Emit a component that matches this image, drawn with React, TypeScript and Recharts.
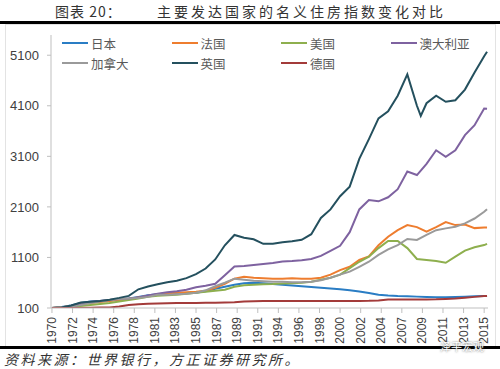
import React from 'react';
import { LineChart, Line, XAxis, YAxis } from 'recharts';

// x positions in years (one extra point for the UK dip in 2008)
const YEARS = [
  1970, 1971, 1972, 1973, 1974, 1975, 1976, 1977, 1978, 1979,
  1980, 1981, 1982, 1983, 1984, 1985, 1986, 1987, 1988, 1989,
  1990, 1991, 1992, 1993, 1994, 1995, 1996, 1997, 1998, 1999,
  2000, 2001, 2002, 2003, 2004, 2005, 2006, 2007, 2008, 2008.4,
  2009, 2010, 2011, 2012, 2013, 2014, 2015, 2015.3,
];

const JAPAN = [
  100, 120, 150, 200, 230, 240, 250, 270, 290, 320,
  350, 370, 380, 385, 390, 400, 430, 480, 520, 560,
  590, 600, 590, 575, 560, 545, 530, 515, 500, 485,
  470, 450, 425, 395, 360, 345, 335, 330, 325, null,
  320, 315, 315, 320, 325, 330, 335, 337,
];
const FRANCE = [
  100, 115, 140, 170, 200, 220, 240, 260, 280, 310,
  340, 370, 390, 400, 410, 420, 440, 500, 580, 680,
  720, 700, 690, 680, 680, 690, 680, 680, 700, 760,
  850, 915, 1050, 1120, 1340, 1510, 1640, 1740, 1700, null,
  1610, 1700, 1800, 1740, 1750, 1680, 1690, 1690,
];
const USA = [
  100, 110, 125, 140, 160, 180, 200, 230, 260, 290,
  320, 340, 350, 360, 380, 400, 420, 440, 460, 520,
  550, 560, 570, 575, 585, 590, 600, 620, 660, 700,
  760, 890, 1015, 1115, 1285, 1425, 1425, 1285, 1070, null,
  1050, 1030, 995, 1115, 1235, 1300, 1345, 1370,
];
const AUSTRALIA = [
  100, 110, 130, 170, 220, 240, 260, 280, 290, 310,
  350, 380, 410, 430, 460, 510, 540, 580, 750, 920,
  930, 950, 970, 990, 1020, 1030, 1045, 1070, 1130, 1230,
  1330, 1600, 2050, 2235, 2210, 2290, 2450, 2800, 2730, null,
  2950, 3220, 3090, 3220, 3520, 3715, 4045, 4040,
];
const CANADA = [
  100, 115, 130, 160, 200, 230, 260, 280, 290, 300,
  320, 360, 360, 370, 380, 400, 450, 530, 600, 680,
  660, 640, 630, 620, 620, 610, 610, 620, 650, 700,
  760, 820, 915, 1015, 1150, 1260, 1345, 1465, 1445, null,
  1545, 1640, 1675, 1705, 1775, 1870, 2005, 2055,
];
const UK = [
  100, 110, 150, 210, 225, 240, 265, 300, 340, 470,
  525, 570, 610, 640, 690, 770, 880, 1060, 1340, 1545,
  1490, 1460, 1370, 1370, 1400, 1420, 1450, 1560, 1880, 2050,
  2310, 2500, 3050, 3440, 3850, 3990, 4300, 4720, 4100, 3900,
  4150, 4300, 4180, 4210, 4420, 4760, 5080, 5170,
];
const GERMANY = [
  100, 100, 100, 102, 105, 108, 110, 130, 160, 175,
  185, 190, 195, 198, 200, 200, 202, 205, 210, 215,
  230, 235, 238, 240, 240, 240, 240, 240, 240, 240,
  240, 240, 240, 242, 250, 268, 270, 270, 270, null,
  270, 272, 280, 290, 305, 320, 335, 338,
];

const SERIES = [
  { key: 'jp', name: '日本', color: '#2A7DC4', values: JAPAN },
  { key: 'fr', name: '法国', color: '#EE7D2F', values: FRANCE },
  { key: 'us', name: '美国', color: '#8EAF4E', values: USA },
  { key: 'au', name: '澳大利亚', color: '#7E62A0', values: AUSTRALIA },
  { key: 'ca', name: '加拿大', color: '#9A9A9A', values: CANADA },
  { key: 'uk', name: '英国', color: '#24505E', values: UK },
  { key: 'de', name: '德国', color: '#A33B3A', values: GERMANY },
];

const TICK_LABELS = [
  '1970', '1972', '1974', '1976', '1978', '1981', '1983', '1985', '1987', '1989', '1991',
  '1994', '1996', '1998', '2000', '2002', '2004', '2007', '2009', '2011', '2013', '2015',
];
const Y_TICKS = [100, 1100, 2100, 3100, 4100, 5100];

const data = YEARS.map((year, i) => {
  const row: Record<string, number | null> = { year };
  SERIES.forEach((s) => {
    row[s.key] = s.values[i];
  });
  return row;
});

// labels sit at even spacing in the original, like an Excel category axis
const X_TICKS = TICK_LABELS.map((_, i) => 1970 + (i * 45) / 21);

const XTick = (props: any) => {
  const { x, y, payload } = props;
  const idx = Math.round(((payload.value - 1970) * 21) / 45);
  return (
    <g transform={`translate(${x},${y})`}>
      <text
        x={0}
        y={0}
        dy={4}
        transform="rotate(-90)"
        textAnchor="end"
        fill="#404040"
        fontSize={12}
        fontFamily="Liberation Sans, Arial, sans-serif"
      >
        {TICK_LABELS[idx]}
      </text>
    </g>
  );
};

const cjk = '"Noto Sans CJK SC", sans-serif';

export default function App() {
  return (
    <div style={{ position: 'absolute', left: 0, top: 0, width: 500, height: 369, background: '#fff', overflow: 'hidden' }}>
      <div style={{ position: 'absolute', left: 55, top: 1, fontFamily: cjk, fontSize: 14, color: '#333', letterSpacing: 1 }}>
        图表 20：
      </div>
      <div style={{ position: 'absolute', left: 157, top: 1, fontFamily: cjk, fontSize: 14, color: '#333', letterSpacing: 3 }}>
        主要发达国家的名义住房指数变化对比
      </div>
      <div style={{ position: 'absolute', left: 0, top: 21, width: 500, height: 2.5, background: '#000' }} />
      <div style={{ position: 'absolute', left: 5, top: 24, width: 489, height: 322, border: '1px solid #E3E3E3' }} />

      <div style={{ position: 'absolute', left: 0, top: 0 }}>
        <LineChart width={500} height={369} data={data} margin={{ top: 35, right: 12, bottom: 21, left: 0 }}>
          <XAxis
            type="number"
            dataKey="year"
            domain={[1969.9, 2015.4]}
            ticks={X_TICKS}
            interval={0}
            height={40}
            tickSize={5}
            tickMargin={4}
            stroke="#BFBFBF"
            tick={<XTick />}
            allowDataOverflow
          />
          <YAxis
            type="number"
            domain={[100, 5500]}
            ticks={Y_TICKS}
            interval={0}
            width={51}
            tickSize={4}
            tickMargin={8}
            stroke="#BFBFBF"
            tick={{ fill: '#404040', fontSize: 13, fontFamily: 'Liberation Sans, Arial, sans-serif' }}
            allowDataOverflow
          />
          {SERIES.map((s) => (
            <Line
              key={s.key}
              type="linear"
              dataKey={s.key}
              name={s.name}
              stroke={s.color}
              strokeWidth={2}
              dot={false}
              connectNulls
              isAnimationActive={false}
            />
          ))}
        </LineChart>
      </div>

      {SERIES.map((s, i) => {
        const col = i % 4;
        const row = Math.floor(i / 4);
        return (
          <div
            key={s.key}
            style={{ position: 'absolute', left: 62 + col * 109.5, top: 34 + row * 20, display: 'flex', alignItems: 'center', height: 18 }}
          >
            <div style={{ width: 26, height: 2, background: s.color }} />
            <span style={{ marginLeft: 3, fontFamily: cjk, fontSize: 12.5, color: '#595959' }}>{s.name}</span>
          </div>
        );
      })}

      <div style={{ position: 'absolute', left: 0, top: 346, width: 500, height: 2.5, background: '#000' }} />
      <div style={{ position: 'absolute', left: 4, top: 349, fontFamily: cjk, fontSize: 14, fontStyle: 'italic', color: '#333', letterSpacing: 2.5 }}>
        资料来源：世界银行，方正证券研究所。
      </div>
      <div style={{ position: 'absolute', left: 440, top: 338, fontFamily: cjk, fontSize: 11, color: '#fff', textShadow: '0 0 2px #555' }}>
        泽平宏观
      </div>
    </div>
  );
}
